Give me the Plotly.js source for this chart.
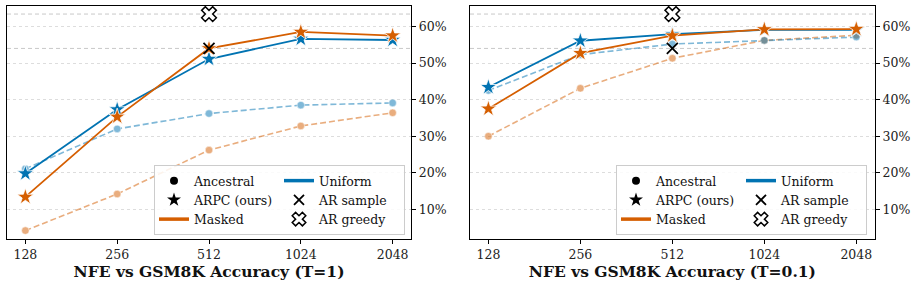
<!DOCTYPE html>
<html><head><meta charset="utf-8">
<script src="https://cdn.plot.ly/plotly-3.0.1.min.js"></script>
<style>html,body{margin:0;padding:0;background:#fff}#chart{width:917px;height:286px}</style>
</head><body><div id="chart"></div>
<script>
// ---- data ----
const nfe = [128, 256, 512, 1024, 2048];
const tickLabels = ['128', '256', '512', '1024', '2048'];
const yTickVals = [10, 20, 30, 40, 50, 60];
const yTickLabels = ['10%', '20%', '30%', '40%', '50%', '60%'];
// T = 1
const t1MaskedArpc   = [13.4, 35.3, 54.0, 58.5, 57.5];
const t1UniformArpc  = [19.8, 37.3, 51.1, 56.6, 56.3];
const t1UniformAnc   = [21.1, 32.0, 36.2, 38.5, 39.1];
const t1MaskedAnc    = [4.2, 14.2, 26.2, 32.8, 36.4];
// T = 0.1
const t01MaskedArpc  = [37.5, 52.7, 57.5, 59.2, 59.3];
const t01UniformArpc = [43.4, 56.1, 57.9, 59.1, 59.1];
const t01UniformAnc  = [42.5, 52.3, 55.2, 56.2, 57.1];
const t01MaskedAnc   = [30.0, 43.1, 51.3, 56.2, 57.6];
// AR baselines
const arNfe = [512];
const arSample = [54.0];
const arGreedy = [63.4];
const titles = ['NFE vs GSM8K Accuracy (T=1)', 'NFE vs GSM8K Accuracy (T=0.1)'];

// ---- style ----
const BLUE = '#0173b2', ORANGE = '#d55e00';
const FONT = 'DejaVu Serif';

function panel(k, maskedArpc, uniformArpc, uniformAnc, maskedAnc) {
  const xa = k === 0 ? 'x' : 'x2', ya = k === 0 ? 'y' : 'y2';
  const anc = (y, c) => ({x: nfe, y: y, xaxis: xa, yaxis: ya, mode: 'lines+markers', showlegend: false,
    opacity: 0.5, line: {color: c, width: 1.6, dash: '6px,3px'},
    marker: {symbol: 'circle', size: 7.5, color: c, line: {color: 'rgba(255,255,255,0.6)', width: 0.8}}, hoverinfo: 'skip'});
  const arpc = (y, c) => ({x: nfe, y: y, xaxis: xa, yaxis: ya, mode: 'lines+markers', showlegend: false,
    line: {color: c, width: 1.8},
    marker: {symbol: 'star', size: 12.5, color: c, line: {color: '#ffffff', width: 0.8}}, hoverinfo: 'skip'});
  return [
    anc(maskedAnc, ORANGE), anc(uniformAnc, BLUE),
    arpc(uniformArpc, BLUE), arpc(maskedArpc, ORANGE),
    {x: arNfe, y: arSample, xaxis: xa, yaxis: ya, mode: 'markers', showlegend: false,
     marker: {symbol: 'x-thin-open', size: 11, color: '#000', line: {color: '#000', width: 1.8}}},
    {x: arNfe, y: arGreedy, xaxis: xa, yaxis: ya, mode: 'markers', showlegend: false,
     marker: {symbol: 'x', size: 13, color: '#fff', line: {color: '#000', width: 1.5}}}
  ];
}

function legendEntries(leg) {
  const dummy = (name, group, extra) => Object.assign({x: [null], y: [null], name: name, legend: leg,
    legendgroup: group, showlegend: true, hoverinfo: 'skip'}, extra);
  return [
    dummy('Ancestral', 'a', {mode: 'markers', marker: {symbol: 'circle', size: 8, color: '#000'}}),
    dummy('ARPC (ours)', 'a', {mode: 'markers', marker: {symbol: 'star', size: 10.5, color: '#000'}}),
    dummy('Masked', 'a', {mode: 'lines', line: {color: ORANGE, width: 3.5}}),
    dummy('Uniform', 'b', {mode: 'lines', line: {color: BLUE, width: 3.5}}),
    dummy('AR sample', 'b', {mode: 'markers', marker: {symbol: 'x-thin-open', size: 10, color: '#000', line: {color: '#000', width: 1.8}}}),
    dummy('AR greedy', 'b', {mode: 'markers', marker: {symbol: 'x', size: 12, color: '#fff', line: {color: '#000', width: 1.5}}})
  ];
}

const traces = [].concat(
  panel(0, t1MaskedArpc, t1UniformArpc, t1UniformAnc, t1MaskedAnc),
  panel(1, t01MaskedArpc, t01UniformArpc, t01UniformAnc, t01MaskedAnc),
  legendEntries('legend'), legendEntries('legend2')
);

const W = 917, H = 286;
const pad = 0.2 * Math.log10(2);
const xRange = [Math.log10(nfe[0]) - pad, Math.log10(nfe[nfe.length - 1]) + pad];
const yDom = [1 - 239 / H, 1 - 6 / H];

function xAxis(dom, title, anchor) {
  return {domain: dom, anchor: anchor, type: 'log', range: xRange, tickvals: nfe, ticktext: tickLabels,
    showgrid: false, zeroline: false, showline: true, mirror: true, linecolor: '#000', linewidth: 1.3,
    ticks: 'outside', ticklen: 4, tickwidth: 1, tickcolor: '#000',
    tickfont: {family: FONT, size: 12.5, color: '#222'},
    title: {text: title, font: {family: FONT, size: 15.5, color: '#111', weight: 'bold'}, standoff: 2}};
}
function yAxis(anchor) {
  return {domain: yDom, anchor: anchor, side: 'right', range: [1.9, 65.6], tickmode: 'array',
    tickvals: yTickVals, ticktext: yTickLabels,
    showgrid: true, gridcolor: '#dddddd', griddash: 'dot', gridwidth: 1, zeroline: false,
    showline: true, mirror: true, linecolor: '#000', linewidth: 1.3,
    ticks: 'outside', ticklen: 4, tickwidth: 1, tickcolor: '#000',
    tickfont: {family: FONT, size: 12.5, color: '#222'}};
}
function legendCfg(xr) {
  return {x: xr / W, y: 1 - 235 / H, xanchor: 'right', yanchor: 'bottom', orientation: 'h',
    traceorder: 'grouped', tracegroupgap: 0, entrywidth: 80, entrywidthmode: 'pixels',
    bgcolor: 'rgba(255,255,255,0.85)', bordercolor: '#cccccc', borderwidth: 1,
    font: {family: FONT, size: 12.5, color: '#111'}, itemclick: false};
}
function refLines(xref, yref) {
  return [arSample[0], arGreedy[0]].map(v => ({type: 'line', xref: xref + ' domain', yref: yref, x0: 0, x1: 1, y0: v, y1: v,
    line: {color: '#c8c8c8', width: 1, dash: '4px,3px'}, layer: 'below'}));
}

const layout = {
  width: W, height: H, margin: {l: 0, r: 0, t: 0, b: 0}, paper_bgcolor: '#fff', plot_bgcolor: '#fff',
  showlegend: true, font: {family: FONT},
  xaxis: xAxis([7 / W, 411 / W], titles[0], 'y'),
  yaxis: yAxis('x'),
  xaxis2: xAxis([470 / W, 874.7 / W], titles[1], 'y2'),
  yaxis2: yAxis('x2'),
  legend: legendCfg(405),
  legend2: legendCfg(867),
  shapes: refLines('x', 'y').concat(refLines('x2', 'y2'))
};

Plotly.newPlot('chart', traces, layout, {staticPlot: true, displayModeBar: false});
</script></body></html>
